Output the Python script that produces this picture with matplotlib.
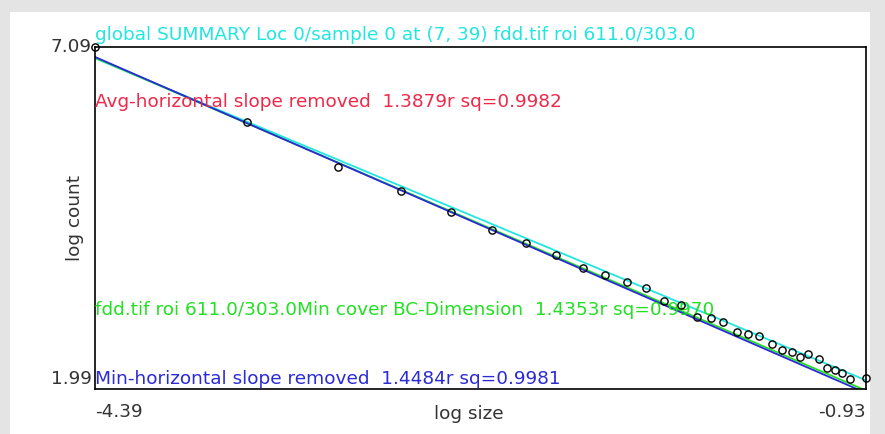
#!/usr/bin/env python3
"""Box-count log-log summary plot: sample points plus three fitted lines."""

import matplotlib

matplotlib.use("Agg")
import matplotlib.pyplot as plt
from matplotlib.patches import Rectangle

plt.rcParams["font.family"] = ["DejaVu Sans"]

# --- data ---
X_MIN, X_MAX = -4.39, -0.93
Y_MIN, Y_MAX = 1.99, 7.09

log_size = [
    -4.390, -3.708, -3.300, -3.017, -2.792, -2.608, -2.456, -2.321, -2.200,
    -2.101, -2.003, -1.917, -1.837, -1.760, -1.688, -1.626, -1.572, -1.509,
    -1.460, -1.410, -1.352, -1.307, -1.262, -1.226, -1.190, -1.141, -1.105,
    -1.069, -1.038, -1.002, -0.930,
]
log_count = [
    7.090, 5.968, 5.295, 4.936, 4.622, 4.353, 4.159, 3.979, 3.785,
    3.695, 3.590, 3.501, 3.306, 3.246, 3.067, 3.052, 2.992, 2.842,
    2.813, 2.783, 2.663, 2.573, 2.543, 2.469, 2.513, 2.439, 2.304,
    2.274, 2.229, 2.140, 2.155,
]

# fitted lines: (value at X_MIN, slope magnitude)
fit_cyan = (6.92, 1.3879)
fit_green = (6.93, 1.4353)
fit_blue = (6.94, 1.4484)

title_text = "global SUMMARY Loc 0/sample 0 at (7, 39) fdd.tif roi 611.0/303.0"
avg_text = "Avg-horizontal slope removed  1.3879r sq=0.9982"
bc_text = "fdd.tif roi 611.0/303.0Min cover BC-Dimension  1.4353r sq=0.9970"
min_text = "Min-horizontal slope removed  1.4484r sq=0.9981"

CYAN = "#22e6e0"
RED = "#f0284a"
GREEN = "#22e022"
BLUE = "#2a2ad8"


def fit_line(fit):
    y0, slope = fit
    return [X_MIN, X_MAX], [y0, y0 - slope * (X_MAX - X_MIN)]


def main() -> None:
    fig = plt.figure(figsize=(8.85, 4.34), dpi=100, facecolor="#e4e4e4")
    # white panel behind the plot
    panel = Rectangle((0.011, 0.0), 0.972, 0.972, transform=fig.transFigure,
                      facecolor="white", edgecolor="none", zorder=-10)
    fig.add_artist(panel)

    ax = fig.add_axes([0.1073, 0.104, 0.8712, 0.788])
    ax.set_facecolor("white")

    for fit, col in ((fit_cyan, CYAN), (fit_green, GREEN), (fit_blue, BLUE)):
        xs, ys = fit_line(fit)
        ax.plot(xs, ys, color=col, linewidth=1.3, clip_on=True)

    ax.plot(log_size, log_count, linestyle="none", marker="o", markersize=5.2,
            markerfacecolor="none", markeredgecolor="black", markeredgewidth=1.0,
            clip_on=False, zorder=5)

    ax.set_xlim(X_MIN, X_MAX)
    ax.set_ylim(Y_MIN, Y_MAX)
    ax.set_xticks([])
    ax.set_yticks([])
    for sp in ax.spines.values():
        sp.set_linewidth(1.2)
        sp.set_color("black")

    fs = 13.3
    ax.text(0.0, 1.008, title_text, transform=ax.transAxes, color=CYAN,
            fontsize=fs, ha="left", va="bottom")
    ax.text(0.0, 0.84, avg_text, transform=ax.transAxes, color=RED,
            fontsize=fs, ha="left", va="center")
    ax.text(0.0, 0.23, bc_text, transform=ax.transAxes, color=GREEN,
            fontsize=fs, ha="left", va="center")
    ax.text(0.0, 0.03, min_text, transform=ax.transAxes, color=BLUE,
            fontsize=fs, ha="left", va="center")

    tick_col = "#333333"
    ax.text(-0.004, 1.0, f"{Y_MAX:.2f}", transform=ax.transAxes, color=tick_col,
            fontsize=fs, ha="right", va="center")
    ax.text(-0.004, 0.03, f"{Y_MIN:.2f}", transform=ax.transAxes, color=tick_col,
            fontsize=fs, ha="right", va="center")
    ax.text(0.0, -0.04, f"{X_MIN:.2f}", transform=ax.transAxes, color=tick_col,
            fontsize=fs, ha="left", va="top")
    ax.text(1.0, -0.04, f"{X_MAX:.2f}", transform=ax.transAxes, color=tick_col,
            fontsize=fs, ha="right", va="top")
    ax.text(0.485, -0.046, "log size", transform=ax.transAxes, color=tick_col,
            fontsize=fs, ha="center", va="top")
    ax.text(-0.026, 0.5, "log count", transform=ax.transAxes, color=tick_col,
            fontsize=fs, ha="center", va="center", rotation=90)

    fig.savefig("out.png", dpi=100, facecolor=fig.get_facecolor())
    plt.close(fig)


if __name__ == "__main__":
    main()
